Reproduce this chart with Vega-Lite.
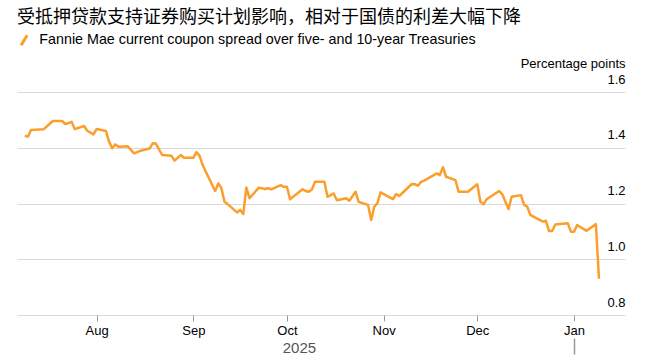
{
  "$schema": "https://vega.github.io/schema/vega-lite/v6.json",
  "autosize": {"type": "none"},
  "padding": {"left": 17, "top": 92, "right": 28, "bottom": 40},
  "width": 608,
  "height": 223,
  "background": "white",
  "config": {"view": {"stroke": null}, "font": "Liberation Sans"},
  "title": {
    "text": "受抵押贷款支持证券购买计划影响，相对于国债的利差大幅下降",
    "anchor": "start",
    "frame": "group",
    "font": "Noto Sans CJK SC",
    "fontSize": 18,
    "fontWeight": "normal",
    "color": "#000000",
    "offset": 6
  },
  "data": {
    "values": [
      {"date": "2025-07-09", "value": 1.443},
      {"date": "2025-07-10", "value": 1.440},
      {"date": "2025-07-11", "value": 1.464},
      {"date": "2025-07-15", "value": 1.466},
      {"date": "2025-07-18", "value": 1.496},
      {"date": "2025-07-21", "value": 1.496},
      {"date": "2025-07-22", "value": 1.485},
      {"date": "2025-07-24", "value": 1.493},
      {"date": "2025-07-25", "value": 1.467},
      {"date": "2025-07-28", "value": 1.478},
      {"date": "2025-07-29", "value": 1.461},
      {"date": "2025-07-31", "value": 1.448},
      {"date": "2025-08-01", "value": 1.467},
      {"date": "2025-08-04", "value": 1.460},
      {"date": "2025-08-05", "value": 1.422},
      {"date": "2025-08-06", "value": 1.398},
      {"date": "2025-08-07", "value": 1.412},
      {"date": "2025-08-08", "value": 1.404},
      {"date": "2025-08-11", "value": 1.405},
      {"date": "2025-08-13", "value": 1.380},
      {"date": "2025-08-15", "value": 1.389},
      {"date": "2025-08-18", "value": 1.397},
      {"date": "2025-08-19", "value": 1.416},
      {"date": "2025-08-20", "value": 1.415},
      {"date": "2025-08-22", "value": 1.374},
      {"date": "2025-08-25", "value": 1.371},
      {"date": "2025-08-26", "value": 1.354},
      {"date": "2025-08-28", "value": 1.374},
      {"date": "2025-08-29", "value": 1.364},
      {"date": "2025-09-01", "value": 1.364},
      {"date": "2025-09-02", "value": 1.384},
      {"date": "2025-09-03", "value": 1.371},
      {"date": "2025-09-04", "value": 1.338},
      {"date": "2025-09-05", "value": 1.314},
      {"date": "2025-09-08", "value": 1.245},
      {"date": "2025-09-09", "value": 1.272},
      {"date": "2025-09-10", "value": 1.255},
      {"date": "2025-09-11", "value": 1.206},
      {"date": "2025-09-12", "value": 1.198},
      {"date": "2025-09-15", "value": 1.168},
      {"date": "2025-09-16", "value": 1.177},
      {"date": "2025-09-17", "value": 1.162},
      {"date": "2025-09-18", "value": 1.257},
      {"date": "2025-09-19", "value": 1.219},
      {"date": "2025-09-22", "value": 1.257},
      {"date": "2025-09-24", "value": 1.252},
      {"date": "2025-09-25", "value": 1.255},
      {"date": "2025-09-26", "value": 1.251},
      {"date": "2025-09-29", "value": 1.266},
      {"date": "2025-09-30", "value": 1.260},
      {"date": "2025-10-01", "value": 1.260},
      {"date": "2025-10-02", "value": 1.215},
      {"date": "2025-10-06", "value": 1.251},
      {"date": "2025-10-07", "value": 1.245},
      {"date": "2025-10-08", "value": 1.242},
      {"date": "2025-10-09", "value": 1.250},
      {"date": "2025-10-10", "value": 1.278},
      {"date": "2025-10-13", "value": 1.278},
      {"date": "2025-10-14", "value": 1.224},
      {"date": "2025-10-16", "value": 1.236},
      {"date": "2025-10-17", "value": 1.212},
      {"date": "2025-10-20", "value": 1.219},
      {"date": "2025-10-21", "value": 1.210},
      {"date": "2025-10-23", "value": 1.242},
      {"date": "2025-10-24", "value": 1.206},
      {"date": "2025-10-27", "value": 1.195},
      {"date": "2025-10-28", "value": 1.141},
      {"date": "2025-10-29", "value": 1.189},
      {"date": "2025-10-30", "value": 1.201},
      {"date": "2025-10-31", "value": 1.240},
      {"date": "2025-11-04", "value": 1.216},
      {"date": "2025-11-05", "value": 1.234},
      {"date": "2025-11-06", "value": 1.227},
      {"date": "2025-11-10", "value": 1.270},
      {"date": "2025-11-11", "value": 1.269},
      {"date": "2025-11-12", "value": 1.264},
      {"date": "2025-11-13", "value": 1.278},
      {"date": "2025-11-14", "value": 1.282},
      {"date": "2025-11-18", "value": 1.308},
      {"date": "2025-11-19", "value": 1.302},
      {"date": "2025-11-20", "value": 1.330},
      {"date": "2025-11-21", "value": 1.296},
      {"date": "2025-11-24", "value": 1.284},
      {"date": "2025-11-25", "value": 1.242},
      {"date": "2025-11-28", "value": 1.242},
      {"date": "2025-12-01", "value": 1.269},
      {"date": "2025-12-02", "value": 1.206},
      {"date": "2025-12-03", "value": 1.197},
      {"date": "2025-12-04", "value": 1.215},
      {"date": "2025-12-08", "value": 1.245},
      {"date": "2025-12-09", "value": 1.233},
      {"date": "2025-12-10", "value": 1.206},
      {"date": "2025-12-11", "value": 1.180},
      {"date": "2025-12-12", "value": 1.224},
      {"date": "2025-12-15", "value": 1.230},
      {"date": "2025-12-16", "value": 1.195},
      {"date": "2025-12-17", "value": 1.189},
      {"date": "2025-12-18", "value": 1.159},
      {"date": "2025-12-19", "value": 1.153},
      {"date": "2025-12-22", "value": 1.135},
      {"date": "2025-12-23", "value": 1.138},
      {"date": "2025-12-24", "value": 1.101},
      {"date": "2025-12-25", "value": 1.101},
      {"date": "2025-12-26", "value": 1.125},
      {"date": "2025-12-30", "value": 1.129},
      {"date": "2025-12-31", "value": 1.099},
      {"date": "2026-01-01", "value": 1.099},
      {"date": "2026-01-02", "value": 1.123},
      {"date": "2026-01-05", "value": 1.102},
      {"date": "2026-01-08", "value": 1.126},
      {"date": "2026-01-09", "value": 0.93}
    ]
  },
  "layer": [
    {
      "mark": {"type": "line", "strokeWidth": 2.5, "strokeJoin": "round"},
      "encoding": {
        "x": {
          "field": "date",
          "type": "temporal",
          "scale": {"domain": [{"year": 2025, "month": 7, "date": 6, "hours": 12}, {"year": 2026, "month": 1, "date": 17, "hours": 8}]},
          "axis": {
            "orient": "bottom",
            "values": [
              {"year": 2025, "month": 8, "date": 1},
              {"year": 2025, "month": 9, "date": 1},
              {"year": 2025, "month": 10, "date": 1},
              {"year": 2025, "month": 11, "date": 1},
              {"year": 2025, "month": 12, "date": 1},
              {"year": 2026, "month": 1, "date": 1}
            ],
            "format": "%b",
            "title": null,
            "grid": false,
            "domain": false,
            "tickSize": 6,
            "tickColor": "#999999",
            "labelPadding": 3,
            "labelFontSize": 13,
            "labelColor": "#000000",
            "labelFlush": false
          }
        },
        "y": {
          "field": "value",
          "type": "quantitative",
          "scale": {"domain": [0.8, 1.6], "nice": false, "zero": false},
          "axis": {
            "orient": "right",
            "values": [0.8, 1.0, 1.2, 1.4, 1.6],
            "format": ".1f",
            "grid": true,
            "gridColor": "#d9d9d9",
            "gridWidth": 1,
            "domain": false,
            "ticks": false,
            "tickSize": 0,
            "labelPadding": 0,
            "labelAlign": "right",
            "labelBaseline": "bottom",
            "labelOffset": -6,
            "labelFontSize": 13,
            "labelColor": "#000000",
            "title": "Percentage points",
            "titleAngle": 0,
            "titleAlign": "right",
            "titleBaseline": "alphabetic",
            "titleX": 0,
            "titleY": -25,
            "titleFontSize": 13,
            "titleFontWeight": "normal",
            "titleColor": "#000000"
          }
        },
        "color": {
          "datum": "Fannie Mae current coupon spread over five- and 10-year Treasuries",
          "type": "nominal",
          "scale": {"range": ["#fb9e2c"]},
          "legend": {
            "title": null,
            "orient": "none",
            "legendX": 0,
            "legendY": -59,
            "symbolType": "M-0.6,1L0.6,-1",
            "symbolSize": 100,
            "symbolStrokeWidth": 3,
            "labelFontSize": 14.3,
            "labelColor": "#000000",
            "labelOffset": 8,
            "labelLimit": 600
          }
        }
      }
    },
    {
      "mark": {"type": "point", "opacity": 0},
      "encoding": {
        "x": {
          "field": "date",
          "type": "temporal",
          "axis": {
            "orient": "bottom",
            "values": [
              {"year": 2025, "month": 10, "date": 4, "hours": 20},
              {"year": 2026, "month": 1, "date": 1}
            ],
            "labelExpr": "year(datum.value) == 2025 ? '2025' : ''",
            "offset": 23,
            "tickSize": 16,
            "tickWidth": 1.5,
            "tickColor": "#999999",
            "tickOpacity": {"condition": {"test": "year(datum.value) == 2026", "value": 1}, "value": 0},
            "labelPadding": -14,
            "labelFontSize": 15,
            "labelColor": "#555555",
            "labelFlush": false,
            "domain": false,
            "grid": false,
            "title": null
          }
        }
      }
    }
  ],
  "resolve": {"axis": {"x": "independent"}}
}
